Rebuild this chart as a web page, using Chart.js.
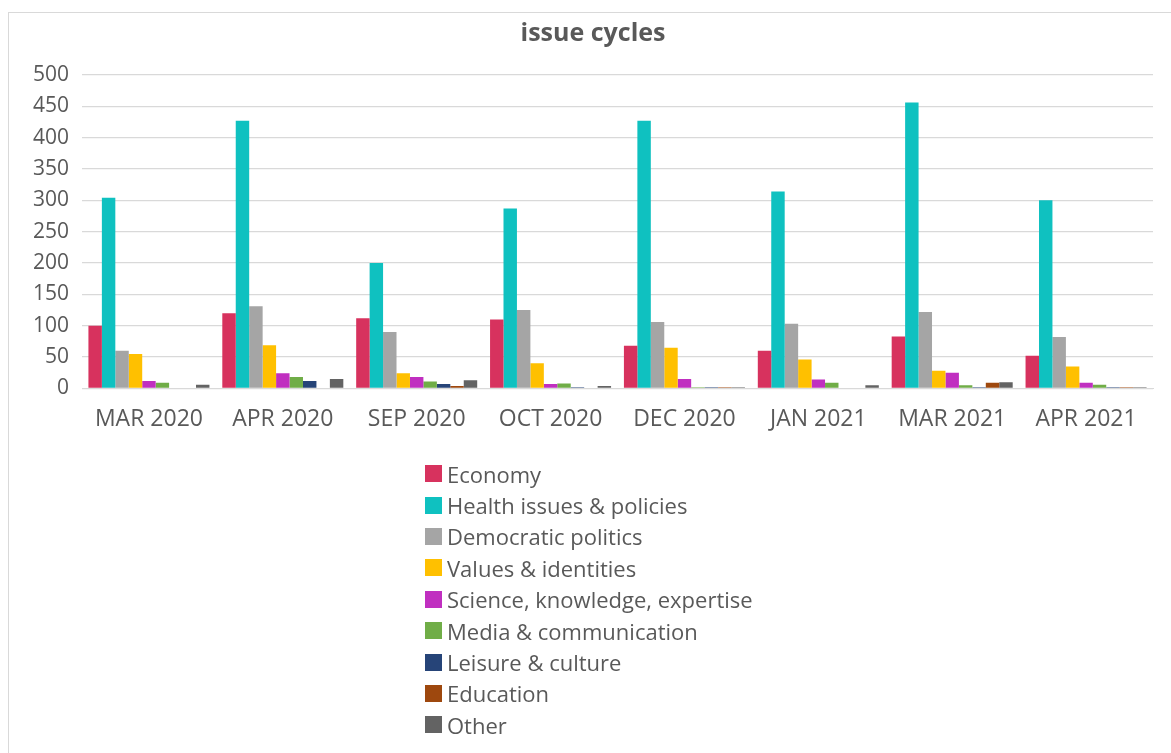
<!DOCTYPE html>
<html>
<head>
<meta charset="utf-8">
<title>issue cycles</title>
<script src="https://cdn.jsdelivr.net/npm/chart.js@4/dist/chart.umd.min.js"></script>
<style>
    html, body {
        margin: 0;
        padding: 0;
        background: #fff;
        width: 1171px;
        height: 753px;
        overflow: hidden;
        font-family: "Open Sans", sans-serif;
    }
    #frame {
        position: absolute;
        left: 8px;
        top: 12px;
        width: 1200px;
        height: 760px;
        border: 1px solid #d9d9d9;
        box-sizing: border-box;
    }
    #wrap {
        position: absolute;
        left: 16px;
        top: 0;
        width: 1155px;
        height: 480px;
    }
    #legend {
        position: absolute;
        left: 425px;
        top: 458px;
        margin: 0;
        padding: 0;
        list-style: none;
    }
    #legend li {
        display: flex;
        align-items: center;
        height: 31.4px;
        font-size: 22px;
        color: #595959;
        white-space: nowrap;
    }
    #legend .box {
        display: inline-block;
        width: 17px;
        height: 17px;
        margin-right: 5px;
    }
</style>
</head>
<body>
<div id="frame"></div>
<div id="wrap"><canvas id="chart"></canvas></div>
<ul id="legend"></ul>

<script>
// categories (survey waves)
var categories = ['MAR 2020', 'APR 2020', 'SEP 2020', 'OCT 2020', 'DEC 2020', 'JAN 2021', 'MAR 2021', 'APR 2021'];

// series values, one array per issue
var economy    = [100, 120, 112, 110, 68, 60, 83, 52];
var health     = [304, 427, 200, 287, 427, 314, 456, 300];
var democratic = [60, 131, 90, 125, 106, 103, 122, 82];
var values     = [55, 69, 24, 40, 65, 46, 28, 35];
var science    = [12, 24, 18, 7, 15, 14, 25, 9];
var media      = [9, 18, 11, 8, 2, 9, 5, 6];
var leisure    = [1, 12, 7, 2, 2, 1, 2, 2];
var education  = [1, 0, 4, 1, 2, 1, 9, 2];
var other      = [6, 15, 13, 4, 2, 5, 10, 2];

// y axis ticks
var yTicks = [0, 50, 100, 150, 200, 250, 300, 350, 400, 450, 500];

var series = [
    { label: 'Economy', data: economy, color: '#d7325e' },
    { label: 'Health issues & policies', data: health, color: '#0fc1c0' },
    { label: 'Democratic politics', data: democratic, color: '#a5a5a5' },
    { label: 'Values & identities', data: values, color: '#ffc000' },
    { label: 'Science, knowledge, expertise', data: science, color: '#c02fc0' },
    { label: 'Media & communication', data: media, color: '#70ad47' },
    { label: 'Leisure & culture', data: leisure, color: '#264478' },
    { label: 'Education', data: education, color: '#9e480e' },
    { label: 'Other', data: other, color: '#636363' }
];

var textColor = '#595959';

var chart = new Chart(document.getElementById('chart'), {
    type: 'bar',
    data: {
        labels: categories,
        datasets: series.map(function (s) {
            return {
                label: s.label,
                data: s.data,
                backgroundColor: s.color,
                borderWidth: 0,
                barPercentage: 1,
                categoryPercentage: 0.904
            };
        })
    },
    options: {
        responsive: true,
        maintainAspectRatio: false,
        animation: false,
        layout: {
            padding: { left: 17, right: 18, top: 0, bottom: 38 }
        },
        plugins: {
            legend: { display: false },
            tooltip: { enabled: false },
            title: {
                display: true,
                text: 'issue cycles',
                color: textColor,
                font: { family: 'Open Sans', size: 25, weight: 'bold' },
                padding: { top: 19, bottom: 26 }
            }
        },
        scales: {
            x: {
                grid: { display: false },
                border: { display: true, color: '#d9d9d9', width: 1 },
                ticks: {
                    color: textColor,
                    font: { family: 'Open Sans', size: 23 },
                    padding: 9,
                    maxRotation: 0
                }
            },
            y: {
                min: 0,
                max: 500,
                afterBuildTicks: function (axis) {
                    axis.ticks = yTicks.map(function (v) { return { value: v }; });
                },
                afterFit: function (axis) {
                    // fixed gutter for the value labels
                    axis.width = 49;
                },
                grid: { color: '#d9d9d9', lineWidth: 1.3, drawTicks: false },
                border: { display: false },
                ticks: {
                    color: textColor,
                    font: { family: 'Open Sans', size: 21 },
                    padding: 13
                }
            }
        }
    }
});

// legend as a single column under the plot
var legendEl = document.getElementById('legend');
chart.options.plugins.legend.labels.generateLabels(chart).forEach(function (item) {
    var li = document.createElement('li');
    var box = document.createElement('span');
    box.className = 'box';
    box.style.background = item.fillStyle;
    li.appendChild(box);
    li.appendChild(document.createTextNode(item.text));
    legendEl.appendChild(li);
});
</script>
</body>
</html>
